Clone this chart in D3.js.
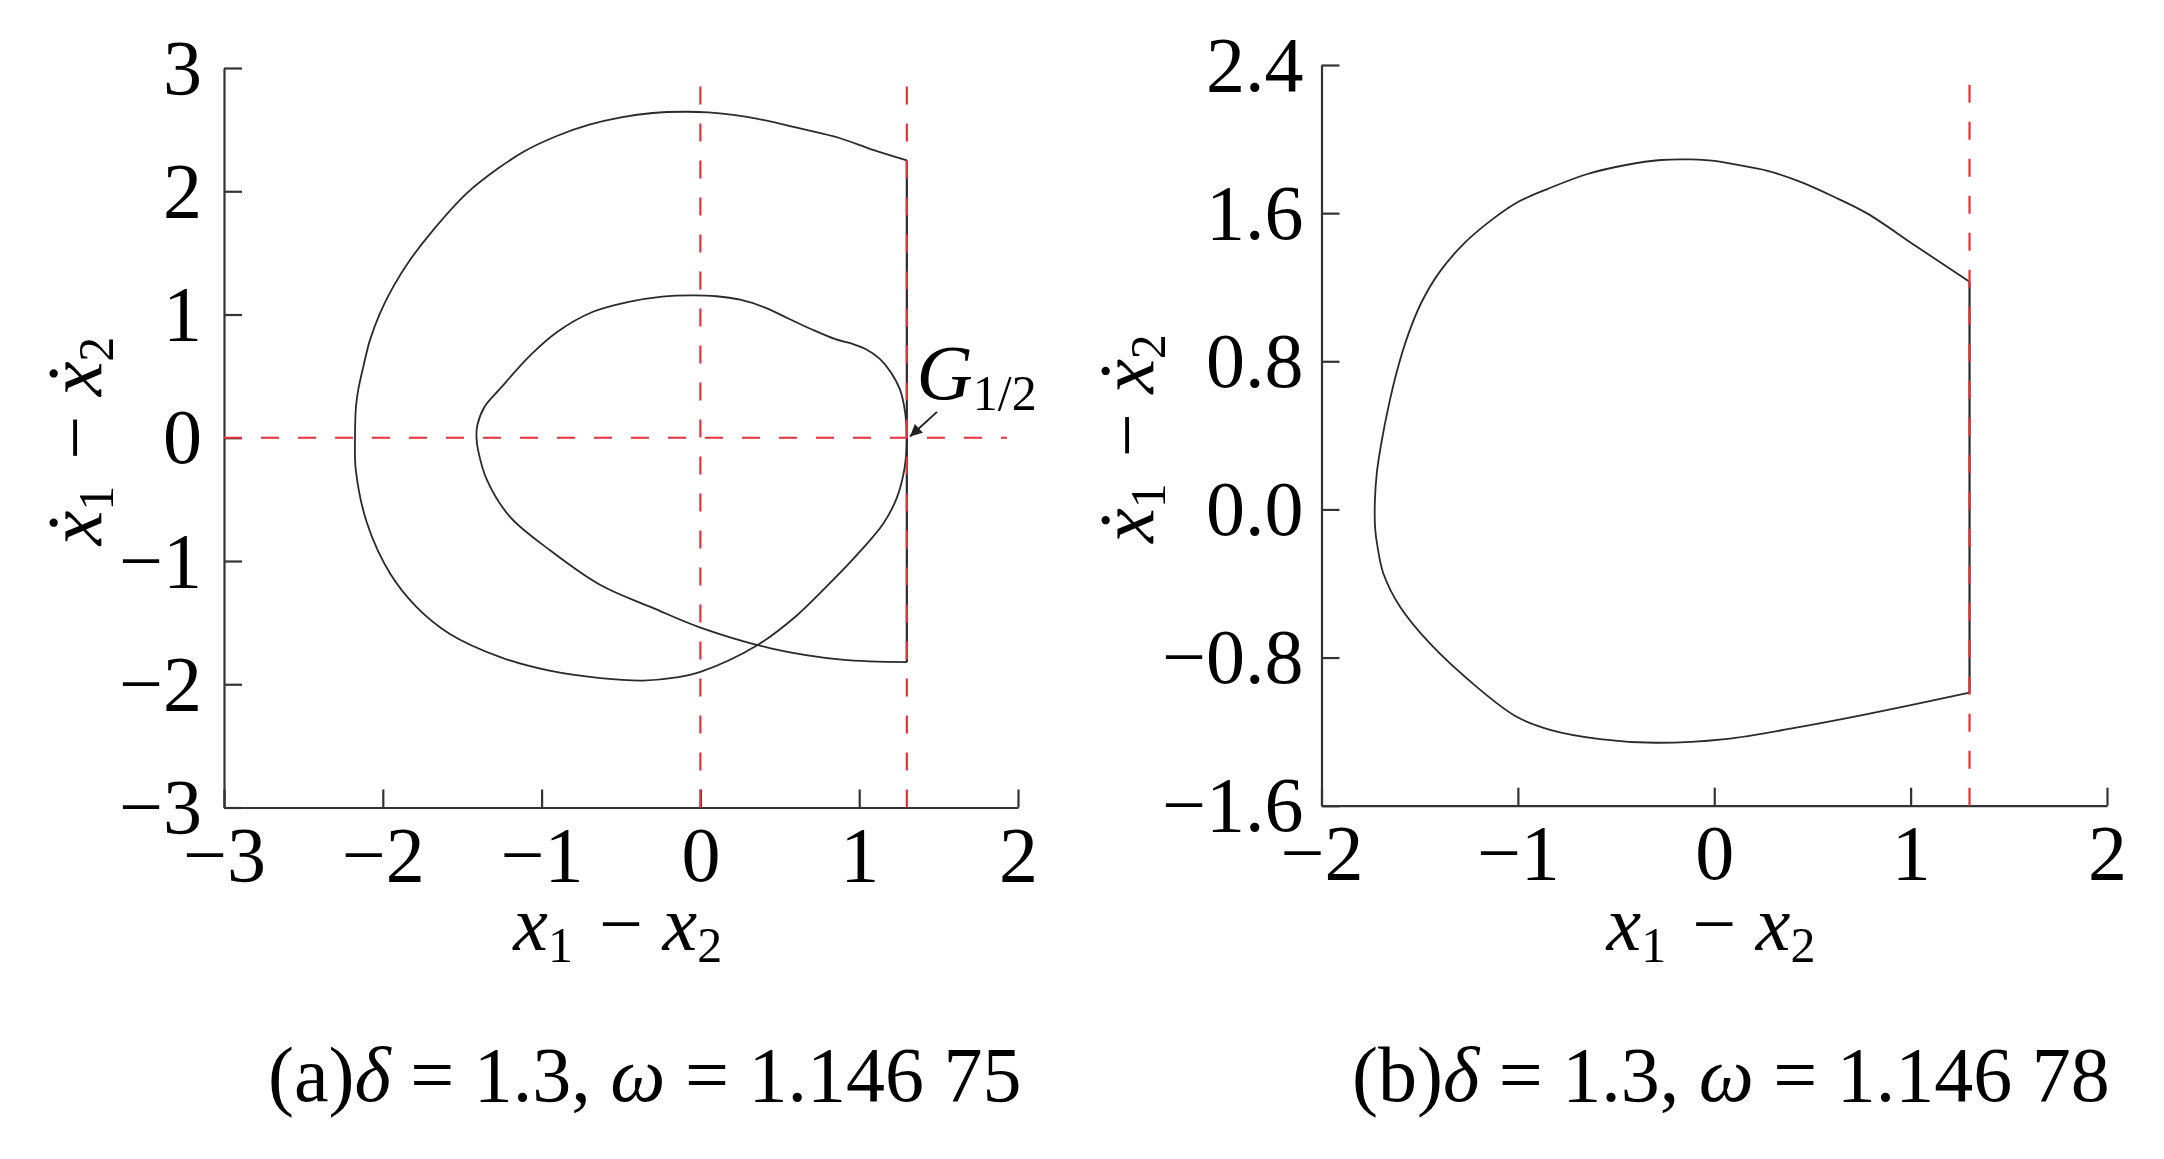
<!DOCTYPE html>
<html><head><meta charset="utf-8">
<script src="https://cdn.jsdelivr.net/npm/d3@7"></script>
<style>
html,body{margin:0;padding:0;background:#fff;}
text{font-family:"Liberation Serif","Times New Roman",serif;fill:#000;}
</style></head>
<body>
<svg id="chart" width="2164" height="1159"></svg>
<script>
// ---------- data ----------
const ticksAx = [-3, -2, -1, 0, 1, 2];
const ticksAy = [-3, -2, -1, 0, 1, 2, 3];
const ticksBx = [-2, -1, 0, 1, 2];
const ticksBy = [-1.6, -0.8, 0.0, 0.8, 1.6, 2.4];

// (a) delta = 1.3, omega = 1.14675 : smooth orbit (x1-x2, x1dot-x2dot)
const orbitA = [
 [1.3,2.25],[1.087,2.335],[0.88,2.43],[0.627,2.51],[0.354,2.59],[0.206,2.62],[0.05,2.64],[-0.1,2.645],
 [-0.3,2.635],[-0.5,2.60],[-0.7,2.54],[-0.9,2.45],[-1.1,2.33],[-1.273,2.186],[-1.472,1.983],
 [-1.683,1.685],[-1.829,1.442],[-1.934,1.226],[-2.018,1.010],[-2.081,0.792],[-2.123,0.575],
 [-2.155,0.386],[-2.169,0.251],[-2.175,0],[-2.17,-0.26],[-2.10,-0.69],[-1.955,-1.10],[-1.79,-1.37],
 [-1.58,-1.59],[-1.26,-1.78],[-0.95,-1.89],[-0.63,-1.95],[-0.36,-1.97],[-0.15,-1.945],[0,-1.90],
 [0.35,-1.69],[0.6,-1.45],[0.8,-1.2],[1.0,-0.93],[1.15,-0.7],[1.236,-0.49],[1.285,-0.25],[1.3,0],
 [1.29,0.2],[1.257,0.39],[1.2,0.53],[1.13,0.64],[1.04,0.72],[0.95,0.765],[0.85,0.80],[0.7,0.88],
 [0.55,0.97],[0.4,1.06],[0.25,1.12],[0.1,1.148],[-0.05,1.155],[-0.24,1.145],[-0.46,1.10],[-0.68,1.02],
 [-0.9,0.86],[-1.07,0.67],[-1.26,0.40],[-1.36,0.25],[-1.405,0.10],[-1.41,0],[-1.40,-0.10],[-1.345,-0.34],
 [-1.2,-0.64],[-0.95,-0.91],[-0.63,-1.195],[-0.3,-1.38],[0,-1.54],[0.45,-1.71],[0.89,-1.80],[1.3,-1.82]
];
const impactA = [[1.3,-1.82],[1.3,2.25]];
const guideAv = [[0,-3],[0,2.89]];
const guideAv2 = [[1.3,-3],[1.3,2.89]];
const guideAh = [[-3,0],[1.93,0]];
const arrowA = [[1.49,0.21],[1.32,0.01]];
const labelGpos = [1.43, 0.32];

// (b) delta = 1.3, omega = 1.14678
const orbitB = [
 [1.3,1.23],[1.03,1.42],[0.776,1.60],[0.606,1.69],[0.436,1.77],[0.267,1.83],[0.097,1.865],[0.02,1.88],
 [-0.12,1.89],[-0.27,1.887],[-0.45,1.86],[-0.65,1.81],[-0.85,1.73],[-1.0,1.66],[-1.15,1.55],[-1.28,1.43],
 [-1.40,1.28],[-1.49,1.12],[-1.56,0.94],[-1.615,0.75],[-1.66,0.55],[-1.695,0.36],[-1.718,0.20],
 [-1.728,0.05],[-1.727,-0.10],[-1.715,-0.2],[-1.685,-0.346],[-1.60,-0.526],[-1.448,-0.724],[-1.21,-0.958],
 [-1.006,-1.12],[-0.836,-1.19],[-0.582,-1.24],[-0.30,-1.26],[0.055,-1.24],[0.41,-1.18],[0.76,-1.11],[1.3,-0.99]
];
const impactB = [[1.3,-0.99],[1.3,1.23]];
const guideBv = [[1.3,-1.6],[1.3,2.34]];

const captionA = {lab:"(a)", delta:"1.3", omega:"1.146 75"};
const captionB = {lab:"(b)", delta:"1.3", omega:"1.146 78"};

// ---------- drawing ----------
const svg = d3.select("#chart");
svg.append("rect").attr("width",2164).attr("height",1159).attr("fill","#fff");
const defs = svg.append("defs");
defs.append("marker").attr("id","arr").attr("viewBox","0 0 10 10").attr("refX",10).attr("refY",5)
  .attr("markerWidth",7).attr("markerHeight",6).attr("markerUnits","strokeWidth").attr("orient","auto")
  .append("path").attr("d","M0,0 L10,5 L0,10 z").attr("fill","#222");

const AX = "#333", RED = "#e8303a";

function panel(cfg){
  const x = d3.scaleLinear().domain(cfg.xd).range(cfg.xr);
  const y = d3.scaleLinear().domain(cfg.yd).range(cfg.yr);
  const g = svg.append("g");
  const line = d3.line().x(d=>x(d[0])).y(d=>y(d[1]));
  const smooth = d3.line().x(d=>x(d[0])).y(d=>y(d[1])).curve(d3.curveCatmullRom.alpha(0.5));

  // axes
  const xa = g.append("g").attr("transform",`translate(0,${cfg.yr[0]})`)
    .call(d3.axisBottom(x).tickValues(cfg.xt).tickSizeInner(-18).tickSizeOuter(0).tickFormat(cfg.xf));
  const ya = g.append("g").attr("transform",`translate(${cfg.xr[0]},0)`)
    .call(d3.axisLeft(y).tickValues(cfg.yt).tickSizeInner(-18).tickSizeOuter(0).tickFormat(cfg.yf));
  [xa,ya].forEach(a=>{
    a.selectAll("path.domain").attr("stroke",AX).attr("stroke-width",2.2);
    a.selectAll(".tick line").attr("stroke",AX).attr("stroke-width",2.2);
    a.selectAll("text").attr("font-family","Liberation Serif").attr("font-size",78).attr("fill","#000");
  });
  xa.selectAll(".tick text").attr("y",73).attr("dy",0);
  ya.selectAll(".tick text").attr("x",cfg.ylabGap).attr("dy",25);

  // curves
  g.append("path").datum(cfg.orbit).attr("d",smooth).attr("fill","none").attr("stroke","#2a2a2a").attr("stroke-width",1.8);
  g.append("path").datum(cfg.impact).attr("d",line).attr("fill","none").attr("stroke","#2a2a2a").attr("stroke-width",2.2);
  // guides
  cfg.guides.forEach(gd=>{
    g.append("path").datum(gd).attr("d",line).attr("fill","none").attr("stroke",RED)
      .attr("stroke-width",2.2).attr("stroke-dasharray","18,19");
  });

  // axis titles
  const xt = g.append("text").attr("x",(cfg.xr[0]+cfg.xr[1])/2).attr("y",950)
    .attr("text-anchor","middle").attr("font-size",78);
  addVar(xt,"x","1"); xt.append("tspan").text(" − "); addVar(xt,"x","2");

  const cy = (cfg.yr[0]+cfg.yr[1])/2;
  const yt = g.append("text").attr("transform",`translate(${cfg.ytx},${cy}) rotate(-90)`)
    .attr("text-anchor","middle").attr("font-size",78);
  addVar(yt,"ẋ","1"); yt.append("tspan").text(" − "); addVar(yt,"ẋ","2");

  // caption
  const c = g.append("text").attr("x",cfg.capx).attr("y",1101).attr("font-size",78);
  c.append("tspan").text(cfg.cap.lab);
  c.append("tspan").attr("font-style","italic").text("δ");
  c.append("tspan").text(" = " + cfg.cap.delta + ", ");
  c.append("tspan").attr("font-style","italic").text("ω");
  c.append("tspan").text(" = " + cfg.cap.omega);
  return {x,y,g};
}
function addVar(t, v, sub){
  t.append("tspan").attr("font-style","italic").text(v);
  t.append("tspan").attr("font-size",50).attr("dy",12).text(sub);
  t.append("tspan").attr("dy",-12).text("\u200A");
}

const A = panel({xd:[-3,2], xr:[224,1018], yd:[-3,3], yr:[807.5,68],
  xt:ticksAx, yt:ticksAy, xf:d3.format("d"), yf:d3.format("d"), ylabGap:-22,
  orbit:orbitA, impact:impactA, guides:[guideAv,guideAv2,guideAh], ytx:101, capx:268, cap:captionA});

const B = panel({xd:[-2,2], xr:[1321.5,2107], yd:[-1.6,2.4], yr:[805.7,65],
  xt:ticksBx, yt:ticksBy, xf:d3.format("d"), yf:d3.format(".1f"), ylabGap:-18,
  orbit:orbitB, impact:impactB, guides:[guideBv], ytx:1153, capx:1352, cap:captionB});

// annotation G_{1/2}
A.g.append("path").datum(arrowA).attr("d",d3.line().x(d=>A.x(d[0])).y(d=>A.y(d[1])))
  .attr("stroke","#222").attr("stroke-width",2).attr("fill","none").attr("marker-end","url(#arr)");
const gl = A.g.append("text").attr("x",A.x(labelGpos[0])-11).attr("y",A.y(labelGpos[1])+1).attr("font-size",78);
gl.append("tspan").attr("font-style","italic").text("G");
gl.append("tspan").attr("font-size",50).attr("dy",11).text("1/2");
</script>
</body></html>
